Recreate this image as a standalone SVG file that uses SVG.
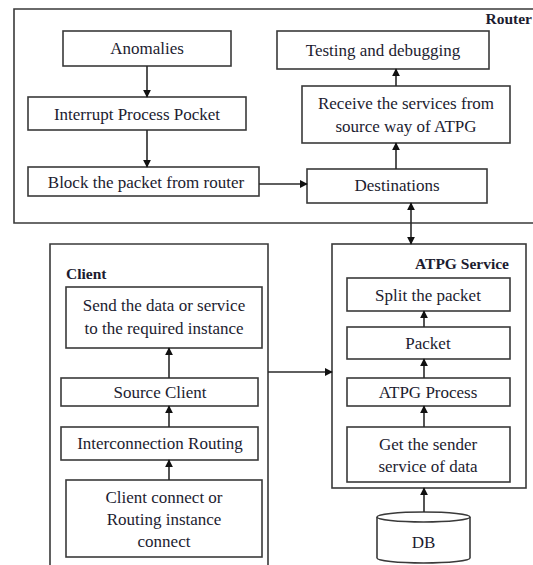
<svg xmlns="http://www.w3.org/2000/svg" width="533" height="565" viewBox="0 0 533 565">
<defs>
<style>
.box{fill:#fff;stroke:#3a3a3a;stroke-width:1.6}
.frame{fill:none;stroke:#3a3a3a;stroke-width:1.6}
.t{font-family:'Liberation Serif',Tinos,'Times New Roman','DejaVu Serif',serif;font-size:17px;fill:#1c1c30;text-anchor:middle}
.lbl{font-family:'Liberation Serif',Tinos,'Times New Roman','DejaVu Serif',serif;font-size:15.5px;font-weight:bold;fill:#1c1c30}
.c{fill:none;stroke:#2a2a2a;stroke-width:1.6}
</style>
<marker id="ah" viewBox="0 0 10 10" refX="9" refY="5" markerWidth="8" markerHeight="8" markerUnits="userSpaceOnUse" orient="auto-start-reverse">
<path d="M0,0 L10,5 L0,10 z" fill="#111"/>
</marker>
</defs>
<rect width="533" height="565" fill="#fff"/>

<g id="router">
<path class="frame" d="M540,9 H14 V223 H540"/>
<text class="lbl" x="532" y="24" text-anchor="end">Router</text>
</g>
<g id="anomalies"><rect class="box" x="63" y="31" width="168" height="35"/><text class="t" x="147" y="54">Anomalies</text></g>
<g id="interrupt"><rect class="box" x="28" y="97" width="218" height="33"/><text class="t" x="137" y="120">Interrupt Process Pocket</text></g>
<g id="block"><rect class="box" x="28" y="167" width="231" height="29"/><text class="t" x="146" y="188">Block the packet from router</text></g>
<g id="testing"><rect class="box" x="277" y="31" width="212" height="38"/><text class="t" x="383" y="56">Testing and debugging</text></g>
<g id="receive"><rect class="box" x="302" y="86" width="208" height="57"/><text class="t" x="406" y="109">Receive the services from</text><text class="t" x="406" y="132">source way of ATPG</text></g>
<g id="destinations"><rect class="box" x="307" y="169" width="180" height="34"/><text class="t" x="397" y="191">Destinations</text></g>

<g id="client">
<path class="frame" d="M50,570 V244 H268 V570"/>
<text class="lbl" x="66" y="279">Client</text>
</g>
<g id="send"><rect class="box" x="66" y="287" width="196" height="61"/><text class="t" x="164" y="311">Send the data or service</text><text class="t" x="164" y="334">to the required instance</text></g>
<g id="source"><rect class="box" x="61" y="378" width="197" height="28"/><text class="t" x="160" y="398">Source Client</text></g>
<g id="interconnection"><rect class="box" x="61" y="427" width="197" height="33"/><text class="t" x="160" y="449">Interconnection Routing</text></g>
<g id="clientconnect"><rect class="box" x="66" y="480" width="196" height="77"/><text class="t" x="164" y="503">Client connect or</text><text class="t" x="164" y="525">Routing instance</text><text class="t" x="164" y="547">connect</text></g>

<g id="atpg">
<rect class="frame" x="332" y="244" width="194" height="244"/>
<text class="lbl" x="509" y="269" text-anchor="end">ATPG Service</text>
</g>
<g id="split"><rect class="box" x="347" y="278" width="163" height="33"/><text class="t" x="428" y="301">Split the packet</text></g>
<g id="packet"><rect class="box" x="347" y="327" width="163" height="32"/><text class="t" x="428" y="349">Packet</text></g>
<g id="process"><rect class="box" x="347" y="378" width="163" height="28"/><text class="t" x="428" y="398">ATPG Process</text></g>
<g id="getsender"><rect class="box" x="347" y="427" width="163" height="55"/><text class="t" x="428" y="450">Get the sender</text><text class="t" x="428" y="472">service of data</text></g>
<g id="db">
<path class="box" d="M377,517 V558 A46.5,5 0 0 0 470,558 V517"/>
<ellipse class="box" cx="423.5" cy="517" rx="46.5" ry="5"/>
<text class="t" x="423.5" y="548">DB</text>
</g>

<g id="connectors">
<path class="c" d="M147,66 V97" marker-end="url(#ah)"/>
<path class="c" d="M147,130 V167" marker-end="url(#ah)"/>
<path class="c" d="M259,184 H307" marker-end="url(#ah)"/>
<path class="c" d="M396,169 V143" marker-end="url(#ah)"/>
<path class="c" d="M396,86 V69" marker-end="url(#ah)"/>
<path class="c" d="M411,244 V203" marker-start="url(#ah)" marker-end="url(#ah)"/>
<path class="c" d="M169,378 V348" marker-end="url(#ah)"/>
<path class="c" d="M169,427 V406" marker-end="url(#ah)"/>
<path class="c" d="M169,480 V460" marker-end="url(#ah)"/>
<path class="c" d="M268,372 H332" marker-end="url(#ah)"/>
<path class="c" d="M424,327 V311" marker-end="url(#ah)"/>
<path class="c" d="M424,378 V359" marker-end="url(#ah)"/>
<path class="c" d="M424,427 V406" marker-end="url(#ah)"/>
<path class="c" d="M424,512 V488" marker-end="url(#ah)"/>
</g>
</svg>
